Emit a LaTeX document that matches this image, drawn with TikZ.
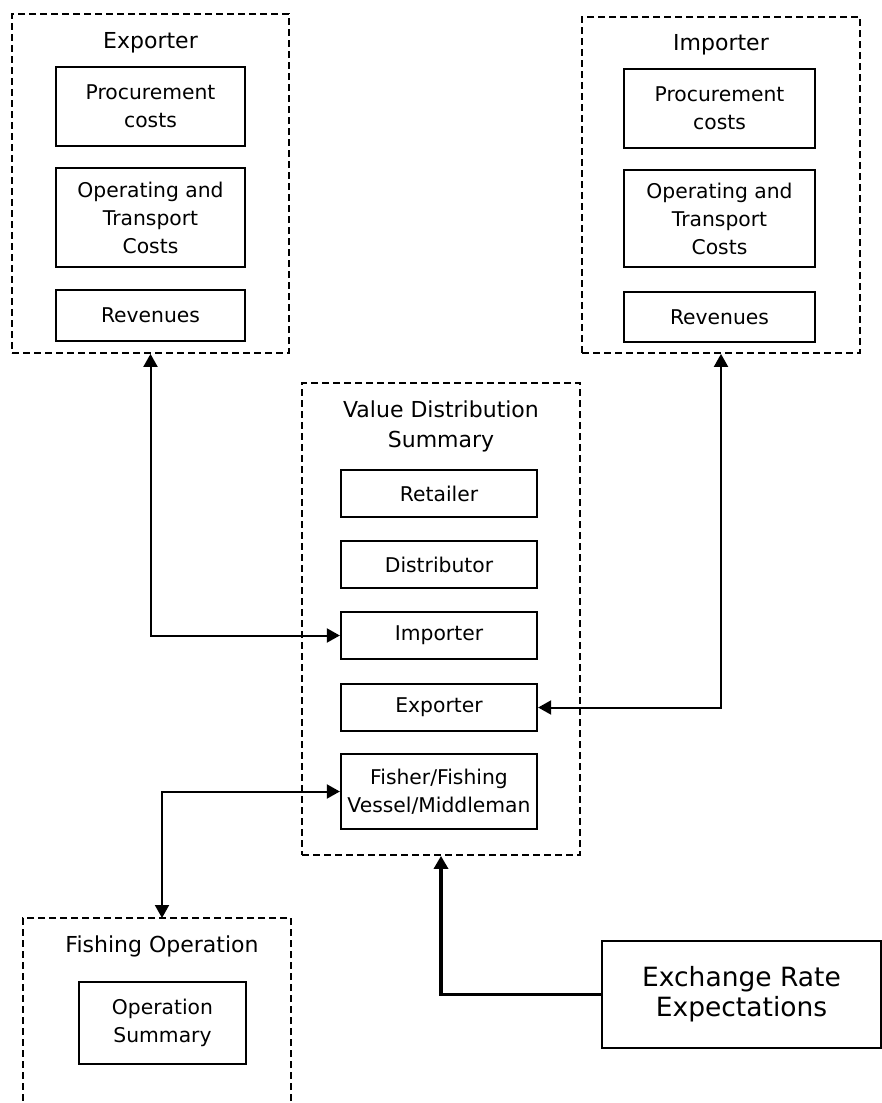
\documentclass[tikz,border=0pt]{standalone}
\usepackage{fontspec}
\setmainfont{DejaVu Sans}
\usetikzlibrary{arrows.meta}
\begin{document}
\begin{tikzpicture}[x=1pt,y=-1pt,
  grp/.style={draw, dashed, dash pattern=on 7pt off 4pt, line width=1.8pt, inner sep=0pt},
  gtitle/.style={anchor=base, inner sep=0pt, font=\fontsize{22}{30}\selectfont, align=center},
  box/.style={draw, line width=2.3pt, inner sep=0pt, align=center, font=\fontsize{20.3}{28}\selectfont},
  conn/.style={line width=2pt, {Triangle[length=13pt,width=14pt]}-{Triangle[length=13pt,width=14pt]}},
  thickconn/.style={line width=3.5pt, -{Triangle[length=13pt,width=14pt]}}]
\useasboundingbox (0,0) rectangle (882,1103);
% Exporter group
\node[grp, minimum width=277pt, minimum height=339pt] (exg) at (150.5,183.5) {};
\node[gtitle] (exgt) at (150.5,48) {Exporter};
\node[box, minimum width=189pt, minimum height=79pt] (exproc) at (150.5,106.5) {Procurement\\costs};
\node[box, minimum width=189pt, minimum height=99pt] (exop) at (150.5,217.5) {Operating and\\Transport\\Costs};
\node[box, minimum width=189pt, minimum height=51pt] (exrev) at (150.5,315.5) {Revenues};
% Importer group
\node[grp, minimum width=278pt, minimum height=336pt] (img) at (721,185) {};
\node[gtitle] (imgt) at (721,50) {Importer};
\node[box, minimum width=191pt, minimum height=79pt] (improc) at (719.5,108.5) {Procurement\\costs};
\node[box, minimum width=191pt, minimum height=97pt] (imop) at (719.5,218.5) {Operating and\\Transport\\Costs};
\node[box, minimum width=191pt, minimum height=50pt] (imrev) at (719.5,317) {Revenues};
% Value distribution group
\node[grp, minimum width=278pt, minimum height=472pt] (vds) at (441,619) {};
\node[gtitle] (vdst) at (441,417) {Value Distribution};
\node[gtitle] (vdst2) at (441,447) {Summary};
\node[box, minimum width=196pt, minimum height=47pt] (vret) at (439,493.5) {Retailer};
\node[box, minimum width=196pt, minimum height=47pt] (vdis) at (439,564.5) {Distributor};
\node[box, minimum width=196pt, minimum height=47pt] (vimp) at (439,635.5) {Importer};
\node[box, minimum width=196pt, minimum height=47pt] (vexp) at (439,707.5) {Exporter};
\node[box, minimum width=196pt, minimum height=75pt] (vfish) at (439,791.5) {Fisher/Fishing\\Vessel/Middleman};
% Fishing operation group
\node[grp, minimum width=268pt, minimum height=300pt] (fog) at (157,1068) {};
\node[gtitle] (fogt) at (162,952) {Fishing Operation};
\node[box, minimum width=167pt, minimum height=82pt] (opsum) at (162.5,1023) {Operation\\Summary};
\coordinate (fotop) at (162,918);
% Exchange rate
\node[box, minimum width=279pt, minimum height=107pt, font=\fontsize{26.5}{30}\selectfont] (xr) at (741.5,994.5) {Exchange Rate\\Expectations};
% Connectors
\draw[conn] (exg.south) |- (vimp.west);
\draw[conn] (img.south) |- (vexp.east);
\draw[conn] (vfish.west) -| (fotop);
\draw[thickconn] (xr.west) -| (vds.south);
\end{tikzpicture}
\end{document}
